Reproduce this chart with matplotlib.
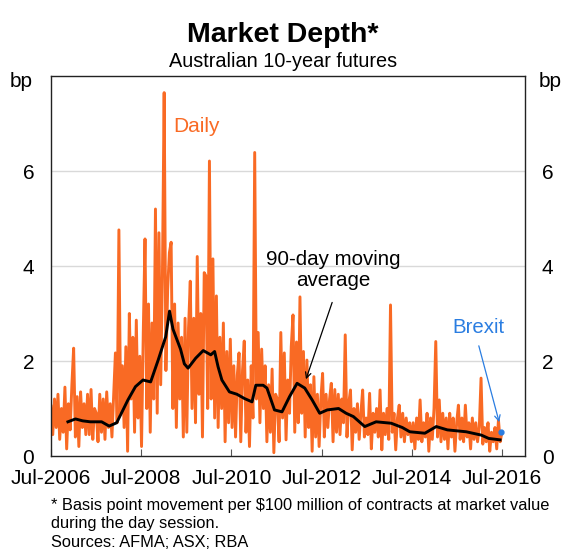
import matplotlib
matplotlib.use('Agg')
import matplotlib.pyplot as plt
import numpy as np
import pandas as pd

plt.rcParams['font.family'] = ['Liberation Sans', 'DejaVu Sans']

#####################
# DATA (bp)
# daily series, roughly fortnightly samples, one row per year Jul-Jun
daily = [
    1.05, 0.45, 1.2, 0.6, 1.3, 0.35, 1.0, 0.5, 1.45, 0.15, 1.1, 0.55, 1.5, 2.27, 0.4, 1.25, 0.2, 1.35, 0.6, 1.1, 0.45, 1.3, 0.45, 1.4, 0.35, 1.0,
    0.9, 0.3, 1.3, 0.5, 1.2, 0.35, 1.35, 0.6, 1.1, 0.4, 1.3, 2.17, 0.7, 4.76, 0.9, 1.9, 0.6, 2.3, 0.1, 3.0, 1.2, 2.5, 0.5, 2.86, 0.8, 2.1,
    0.2, 2.6, 4.57, 1.0, 3.2, 0.5, 2.8, 1.2, 5.2, 0.9, 4.7, 1.5, 3.8, 7.65, 1.8, 3.5, 4.28, 4.5, 1.0, 3.2, 0.6, 2.8, 1.2, 2.5, 0.4, 2.9,
    0.5, 2.7, 3.68, 1.0, 2.9, 0.7, 4.2, 1.3, 3.0, 0.4, 3.86, 3.79, 1.0, 6.21, 1.2, 4.15, 0.8, 3.37, 0.6, 2.5, 1.0, 2.8, 0.3, 2.2, 0.7, 2.46,
    0.6, 1.9, 0.4, 1.7, 2.17, 0.3, 1.8, 2.42, 0.5, 1.6, 0.2, 1.9, 0.8, 6.39, 1.2, 2.6, 0.7, 2.25, 1.0, 1.9, 0.3, 1.5, 0.5, 1.83, 0.07, 1.3,
    1.2, 0.3, 2.6, 0.8, 2.17, 0.34, 1.6, 0.9, 2.3, 2.97, 0.5, 2.4, 0.7, 3.35, 0.9, 2.2, 0.4, 2.02, 0.6, 1.5, 0.1, 1.67, 0.4, 1.3, 0.2, 1.2,
    1.74, 0.4, 1.3, 0.6, 1.2, 1.53, 0.3, 1.4, 0.5, 1.3, 0.45, 1.2, 0.7, 2.55, 0.4, 1.1, 1.39, 0.13, 1.0, 0.5, 1.1, 0.35, 0.9, 1.39, 0.4, 0.8,
    0.45, 1.32, 0.15, 0.9, 0.5, 1.0, 0.4, 1.39, 0.13, 0.9, 0.45, 1.0, 0.35, 3.18, 0.5, 0.9, 0.13, 0.8, 1.07, 0.4, 0.9, 0.3, 0.8, 0.45, 0.7, 0.3,
    0.7, 0.15, 0.8, 0.35, 1.18, 0.3, 0.7, 0.4, 0.9, 0.1, 0.8, 0.35, 1.0, 2.41, 0.4, 1.18, 0.3, 0.9, 0.35, 0.8, 0.15, 0.9, 0.4, 0.8, 0.1, 0.7,
    1.07, 0.35, 0.8, 0.3, 1.07, 0.4, 0.7, 0.15, 0.8, 0.35, 0.7, 0.3, 0.6, 1.64, 0.25, 0.6, 0.3, 0.7, 0.1, 0.5, 0.3, 0.6, 0.15, 0.76, 0.3, 0.5,
]
# 90-day moving average
ma_dates = ['2006-11', '2007-01', '2007-03', '2007-05', '2007-08', '2007-10', '2007-12',
            '2008-03', '2008-05', '2008-07', '2008-09', '2008-11', '2009-01', '2009-02',
            '2009-03', '2009-05', '2009-06', '2009-07', '2009-09', '2009-11', '2010-01',
            '2010-02', '2010-03', '2010-04', '2010-06', '2010-08', '2010-10', '2010-12',
            '2011-01', '2011-03', '2011-04', '2011-06', '2011-08', '2011-10', '2011-12',
            '2012-02', '2012-04', '2012-06', '2012-08', '2012-11', '2013-01', '2013-03',
            '2013-06', '2013-09', '2014-01', '2014-04', '2014-06', '2014-10', '2015-01',
            '2015-04', '2015-09', '2016-01', '2016-03', '2016-06']
ma_vals = [0.72, 0.78, 0.74, 0.72, 0.72, 0.63, 0.70,
           1.18, 1.46, 1.60, 1.56, 2.02, 2.51, 3.05,
           2.67, 2.25, 1.94, 1.85, 2.06, 2.22, 2.13,
           2.20, 1.88, 1.60, 1.35, 1.30, 1.21, 1.14,
           1.49, 1.49, 1.43, 0.97, 0.93, 1.25, 1.53,
           1.43, 1.18, 0.90, 0.97, 1.00, 0.90, 0.83,
           0.62, 0.72, 0.69, 0.60, 0.51, 0.48, 0.62,
           0.55, 0.51, 0.44, 0.37, 0.34]
brexit_date = '2016-06-24'
brexit_val = 0.51
xtick_dates = ['2006-07-01', '2008-07-01', '2010-07-01', '2012-07-01', '2014-07-01', '2016-07-01']
xtick_labels = ['Jul-2006', 'Jul-2008', 'Jul-2010', 'Jul-2012', 'Jul-2014', 'Jul-2016']
#####################

orange = '#f96a24'
blue = '#2a7de1'

daily_dates = pd.date_range('2006-07-01', '2016-06-30', periods=len(daily))
ma_x = pd.to_datetime(ma_dates) + pd.Timedelta(days=14)

fig = plt.figure(figsize=(5.66, 5.5), dpi=100)
ax = fig.add_axes([0.0901, 0.1709, 0.8375, 0.6909])

ax.plot(daily_dates, daily, color=orange, lw=2.1, zorder=2)
ax.plot(ma_x, ma_vals, color='black', lw=2.1, zorder=3)
ax.plot(pd.to_datetime([brexit_date]), [brexit_val], 'o', color=blue, ms=3.5, zorder=4)

ax.set_xlim(pd.Timestamp('2006-07-01'), pd.Timestamp('2017-01-03'))
ax.set_ylim(0, 8)
ax.set_yticks([0, 2, 4, 6])
for g in [2, 4, 6]:
    ax.axhline(g, color='#d9d9d9', lw=1, zorder=1)

ax.set_xticks(pd.to_datetime(xtick_dates))
ax.set_xticklabels(xtick_labels)
ax.tick_params(axis='x', direction='in', length=5, color='#555555', labelsize=15, pad=9)
ax.tick_params(axis='y', length=0, labelsize=15, pad=12, labelleft=True, labelright=True)
for s in ax.spines.values():
    s.set_linewidth(1)
    s.set_color('#222222')

# titles and labels
fig.text(0.5, 0.937, 'Market Depth*', ha='center', va='center', fontsize=20.5, fontweight='bold')
fig.text(0.5, 0.889, 'Australian 10-year futures', ha='center', va='center', fontsize=14.3)
fig.text(0.038, 0.851, 'bp', ha='center', va='center', fontsize=15)
fig.text(0.972, 0.851, 'bp', ha='center', va='center', fontsize=15)

ax.text(0.308, 0.866, 'Daily', transform=ax.transAxes, color=orange, fontsize=15,
        ha='center', va='center')
ax.text(0.595, 0.489, '90-day moving\naverage', transform=ax.transAxes, fontsize=14.8,
        ha='center', va='center', linespacing=1.1)
ax.annotate('', xy=(0.536, 0.195), xycoords='axes fraction', xytext=(0.595, 0.411),
            textcoords='axes fraction',
            arrowprops=dict(arrowstyle='->', color='black', lw=0.9))
ax.text(0.901, 0.337, 'Brexit', transform=ax.transAxes, color=blue, fontsize=14.7,
        ha='center', va='center')
ax.annotate('', xy=(0.947, 0.082), xycoords='axes fraction', xytext=(0.901, 0.297),
            textcoords='axes fraction',
            arrowprops=dict(arrowstyle='->', color=blue, lw=0.9))

fig.text(0.09, 0.081, '* Basis point movement per $100 million of contracts at market value',
         fontsize=11.8, va='center')
fig.text(0.09, 0.048, 'during the day session.', fontsize=11.8, va='center')
fig.text(0.09, 0.013, 'Sources: AFMA; ASX; RBA', fontsize=11.8, va='center')

plt.savefig('out.png', dpi=100)
